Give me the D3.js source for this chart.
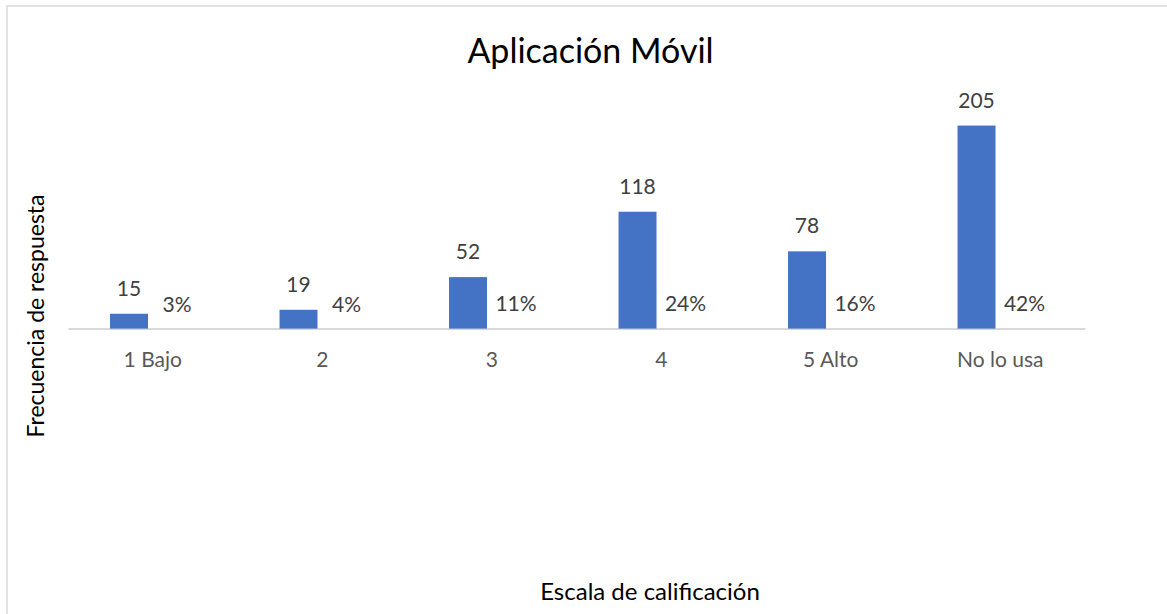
<!DOCTYPE html>
<html>
<head>
<meta charset="utf-8">
<script src="https://cdn.jsdelivr.net/npm/d3@7"></script>
<style>
  body { margin: 0; background: #fff; }
  svg { display: block; font-family: Lato, "Open Sans", sans-serif; }
</style>
</head>
<body>
<svg width="1167" height="614"></svg>
<script>
// data
const categories = ["1 Bajo", "2", "3", "4", "5 Alto", "No lo usa"]
const frequency = [15, 19, 52, 118, 78, 205]
const percent = [0.03, 0.04, 0.11, 0.24, 0.16, 0.42]
const series = ["freq", "pct"]

let svg = d3.select("svg")
let plot = {left: 68, right: 1085, top: 81, bottom: 328.6}

// chart frame (runs off the right and bottom edge like the source)
svg.append("rect")
  .attr("x", 7).attr("y", 6)
  .attr("width", 1200).attr("height", 700)
  .attr("fill", "none")
  .attr("stroke", "#d9d9d9")
  .attr("stroke-width", 1.5)

let x0 = d3.scaleBand().domain(categories).range([plot.left, plot.right]).padding(0)
let x1 = d3.scaleBand().domain(series)
  .range([x0.bandwidth() * 0.248, x0.bandwidth() * 0.696])
let y = d3.scaleLinear().domain([0, 250]).range([plot.bottom, plot.top])

let rows = categories.map((c, i) => ({cat: c, freq: frequency[i], pct: percent[i]}))

// x axis
let xAxis = svg.append("g")
  .attr("transform", "translate(0," + plot.bottom + ")")
  .call(d3.axisBottom(x0).tickSize(0).tickPadding(0))
xAxis.select(".domain").attr("stroke", "#d9d9d9").attr("stroke-width", 2)
xAxis.selectAll(".tick text")
  .attr("y", 38)
  .attr("dy", 0)
  .attr("fill", "#595959")
  .attr("font-size", 21)
  .attr("font-family", "Lato, sans-serif")

// bars
let groups = svg.selectAll(".cat")
  .data(rows)
  .enter().append("g")
  .attr("class", "cat")
  .attr("transform", d => "translate(" + x0(d.cat) + ",0)")

groups.append("rect")
  .attr("x", x1("freq"))
  .attr("width", x1.bandwidth())
  .attr("y", d => y(d.freq))
  .attr("height", d => y(0) - y(d.freq))
  .attr("fill", "#4472c4")

// percentage series shares the count axis, so its bars are sub-pixel
groups.append("rect")
  .attr("x", x1("pct"))
  .attr("width", x1.bandwidth())
  .attr("y", d => y(d.pct))
  .attr("height", d => y(0) - y(d.pct))
  .attr("fill", "#ed7d31")
  .attr("fill-opacity", 0)

// data labels
groups.append("text")
  .attr("x", x1("freq") + x1.bandwidth() / 2)
  .attr("y", d => y(d.freq) - 18)
  .attr("text-anchor", "middle")
  .attr("fill", "#404040")
  .attr("font-size", 21)
  .text(d => d.freq)

groups.append("text")
  .attr("x", x1("pct") + x1.bandwidth() / 2 + 10)
  .attr("y", d => y(d.pct) - 17)
  .attr("text-anchor", "middle")
  .attr("fill", "#404040")
  .attr("font-size", 21)
  .text(d => d3.format(".0%")(d.pct))

// titles
svg.append("text")
  .attr("x", 590.5).attr("y", 62.5)
  .attr("text-anchor", "middle")
  .attr("fill", "#000")
  .attr("font-size", 34)
  .text("Aplicación Móvil")

svg.append("text")
  .attr("x", 650).attr("y", 600)
  .attr("text-anchor", "middle")
  .attr("fill", "#000")
  .attr("font-size", 24)
  .text("Escala de calificación")

svg.append("text")
  .attr("transform", "translate(44,316) rotate(-90)")
  .attr("text-anchor", "middle")
  .attr("fill", "#000")
  .attr("font-size", 23)
  .text("Frecuencia de respuesta")
</script>
</body>
</html>
